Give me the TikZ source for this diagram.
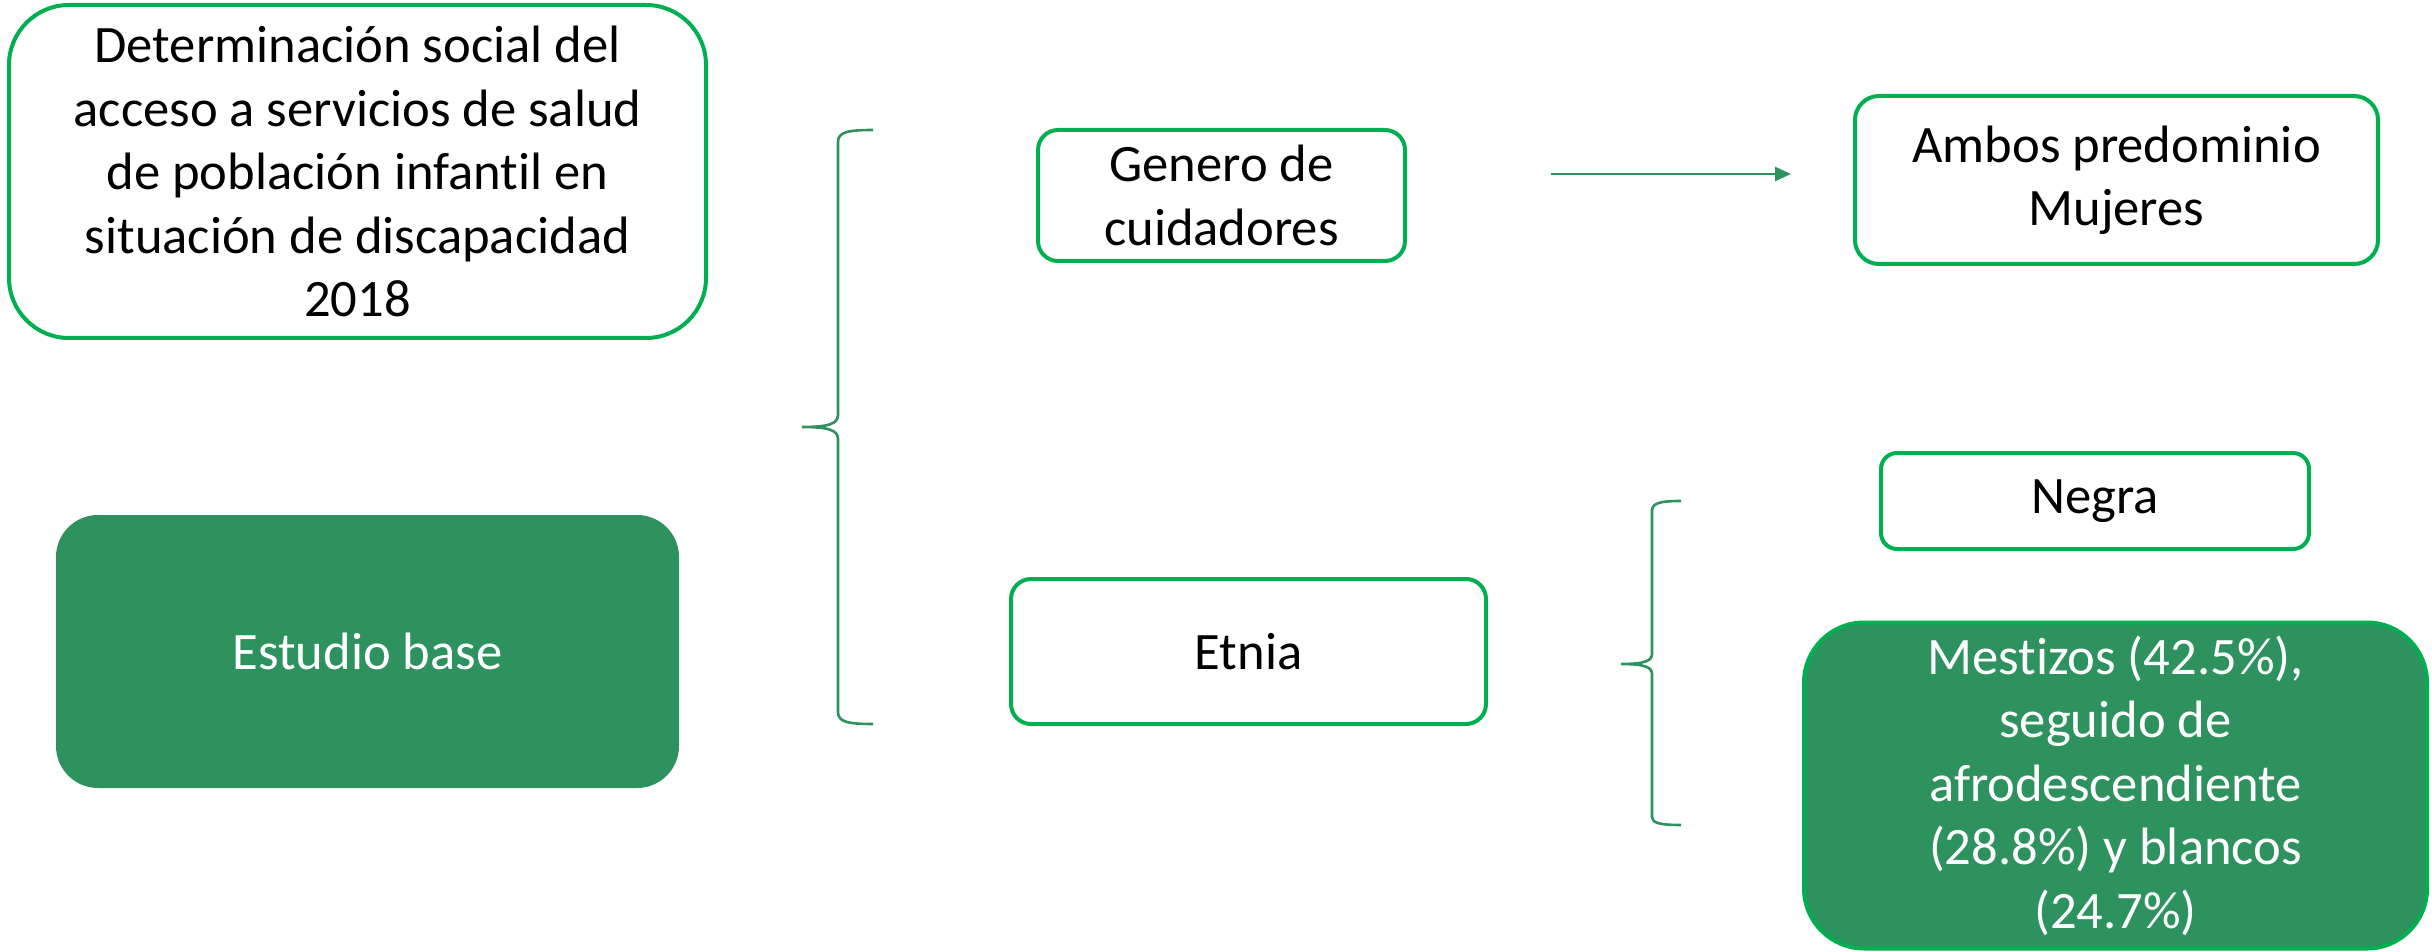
\documentclass[tikz,border=0pt]{standalone}
\usepackage{fontspec}
\setmainfont{Carlito}[Ligatures={NoCommon}]
\usetikzlibrary{arrows.meta}
\definecolor{brightgreen}{HTML}{00B050}
\definecolor{darkgreen}{HTML}{2E925F}
\begin{document}
\begin{tikzpicture}[x=0.5pt,y=-0.5pt,
  box/.style={draw=brightgreen, line width=2pt, fill=white, align=center,
    font=\fontsize{26.3}{31.75}\selectfont, inner sep=0pt},
  filledbox/.style={box, fill=darkgreen, text=white},
  plainfill/.style={fill=darkgreen, text=white, align=center,
    font=\fontsize{26.3}{31.75}\selectfont, inner sep=0pt},
  bracepath/.style={draw=darkgreen, line width=1.3pt},
  conn/.style={draw=darkgreen, line width=1.3pt, -{Triangle[length=8pt,width=7pt]}}]
\useasboundingbox (0,0) rectangle (2432,952);

\node[box, minimum width=348.5pt, minimum height=166.5pt, rounded corners=30pt] (title) at (357.5,171.5)
  {Determinación social del\\acceso a servicios de salud\\de población infantil en\\situación de discapacidad\\2018};
\node[plainfill, minimum width=311.5pt, minimum height=136.5pt, rounded corners=21pt] (base) at (367.5,651.5)
  {Estudio base};
\node[box, minimum width=183.5pt, minimum height=65.5pt, rounded corners=10pt] (genero) at (1221.5,195.5)
  {Genero de\\cuidadores};
\node[box, minimum width=261.5pt, minimum height=84pt, rounded corners=12pt] (ambos) at (2116.5,180)
  {Ambos predominio\\Mujeres};
\node[box, minimum width=237.5pt, minimum height=72.5pt, rounded corners=10pt] (etnia) at (1248.5,651.5)
  {Etnia};
\node[box, minimum width=214pt, minimum height=48pt, rounded corners=8pt] (negra) at (2095,501)
  {Negra};
\node[filledbox, minimum width=311.5pt, minimum height=163pt, rounded corners=30pt] (mestizos) at (2115.5,785.5)
  {Mestizos (42.5\%),\\seguido de\\afrodescendiente\\(28.8\%) y blancos\\(24.7\%)};

% brace 1
\path[bracepath] (873,130) .. controls (848,130) and (838,132) .. (838,142)
  -- (838,415) .. controls (838,424) and (828,427) .. (802,427)
  .. controls (828,427) and (838,430) .. (838,439)
  -- (838,712) .. controls (838,722) and (848,724) .. (873,724);
% brace 2
\path[bracepath] (1681,501) .. controls (1660,501) and (1652,503) .. (1652,511)
  -- (1652,654) .. controls (1652,661) and (1644,664) .. (1621,664)
  .. controls (1644,664) and (1652,667) .. (1652,674)
  -- (1652,817) .. controls (1652,823) and (1660,825) .. (1681,825);

\coordinate (a1) at (1551,174);
\coordinate (a2) at (1791,174);
\draw[conn] (a1) -- (a2);
\end{tikzpicture}
\end{document}
